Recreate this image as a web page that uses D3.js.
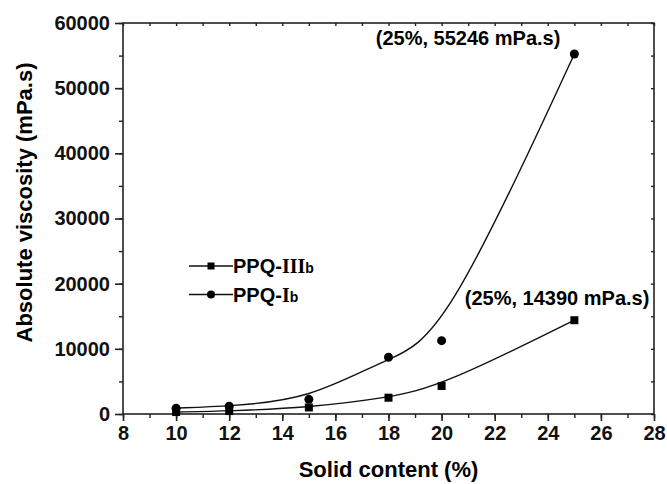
<!DOCTYPE html>
<html>
<head>
<meta charset="utf-8">
<script src="https://cdn.jsdelivr.net/npm/d3@7"></script>
<style>
    html, body { margin: 0; padding: 0; background: #fff; }
    svg { display: block; font-family: 'Liberation Sans', Arial, sans-serif; }
    .axis path, .axis line { stroke: #222; }
</style>
</head>
<body>
<div id="chart"></div>
<script>
// solid content (%)
const solidContent = [10, 12, 15, 18, 20, 25];
// absolute viscosity (mPa.s)
const ppqIIIb = [300, 450, 1000, 2500, 4300, 14390];
const ppqIb = [900, 1200, 2250, 8700, 11250, 55246];

const xTicks = [8, 10, 12, 14, 16, 18, 20, 22, 24, 26, 28];
const yTicks = [0, 10000, 20000, 30000, 40000, 50000, 60000];

const width = 667, height = 484;
const margin = { top: 23, right: 13, bottom: 70, left: 123 };

const svg = d3.select('#chart')
    .append('svg')
    .attr('width', width)
    .attr('height', height);

const x = d3.scaleLinear().domain([8, 28]).range([margin.left, width - margin.right]);
const y = d3.scaleLinear().domain([0, 60000]).range([height - margin.bottom, margin.top]);

const minorX = d3.range(8, 29, 1);
const minorY = d3.range(0, 60001, 5000);

// frame
svg.append('rect')
    .attr('x', x(8)).attr('y', y(60000))
    .attr('width', x(28) - x(8)).attr('height', y(0) - y(60000))
    .attr('fill', 'none').attr('stroke', '#222').attr('stroke-width', 1.6);

// bottom axis: minor then major
svg.append('g').attr('class', 'axis')
    .attr('transform', `translate(0,${y(0)})`)
    .call(d3.axisBottom(x).tickValues(minorX).tickSize(4).tickFormat(''))
    .call(g => g.select('.domain').remove())
    .selectAll('line').attr('stroke-width', 1.4);

svg.append('g').attr('class', 'axis')
    .attr('transform', `translate(0,${y(0)})`)
    .call(d3.axisBottom(x).tickValues(xTicks).tickSize(7).tickPadding(5).tickFormat(d3.format('d')))
    .call(g => g.select('.domain').remove())
    .call(g => g.selectAll('line').attr('stroke-width', 1.6))
    .call(g => g.selectAll('text')
        .style('font-size', '20px').style('font-weight', 'bold').attr('fill', '#111'));

// left axis
svg.append('g').attr('class', 'axis')
    .attr('transform', `translate(${x(8)},0)`)
    .call(d3.axisLeft(y).tickValues(minorY).tickSize(4).tickFormat(''))
    .call(g => g.select('.domain').remove())
    .selectAll('line').attr('stroke-width', 1.4);

svg.append('g').attr('class', 'axis')
    .attr('transform', `translate(${x(8)},0)`)
    .call(d3.axisLeft(y).tickValues(yTicks).tickSize(8).tickPadding(5).tickFormat(d3.format('d')))
    .call(g => g.select('.domain').remove())
    .call(g => g.selectAll('line').attr('stroke-width', 1.6))
    .call(g => g.selectAll('text')
        .style('font-size', '20px').style('font-weight', 'bold').attr('fill', '#111'));

// top and right: short inward ticks
svg.append('g').attr('class', 'axis')
    .attr('transform', `translate(0,${y(60000)})`)
    .call(d3.axisBottom(x).tickValues(minorX).tickSize(3).tickFormat(''))
    .call(g => g.select('.domain').remove())
    .selectAll('line').attr('stroke-width', 1.4);

svg.append('g').attr('class', 'axis')
    .attr('transform', `translate(${x(28)},0)`)
    .call(d3.axisLeft(y).tickValues(minorY).tickSize(3).tickFormat(''))
    .call(g => g.select('.domain').remove())
    .selectAll('line').attr('stroke-width', 1.4);

// axis titles
svg.append('text')
    .attr('x', (x(8) + x(28)) / 2)
    .attr('y', 477)
    .attr('text-anchor', 'middle')
    .style('font-size', '22px').style('font-weight', 'bold')
    .text('Solid content (%)');

svg.append('text')
    .attr('transform', `translate(32,${(y(0) + y(60000)) / 2 - 16}) rotate(-90)`)
    .attr('text-anchor', 'middle')
    .style('font-size', '22px').style('font-weight', 'bold')
    .text('Absolute viscosity (mPa.s)');

// B-spline fitted curves
const line = d3.line()
    .x(d => x(d[0]))
    .y(d => y(d[1]))
    .curve(d3.curveBasis);

const seriesIII = solidContent.map((s, i) => [s, ppqIIIb[i]]);
const seriesI = solidContent.map((s, i) => [s, ppqIb[i]]);

[seriesIII, seriesI].forEach(s => {
    svg.append('path')
        .datum(s)
        .attr('d', line)
        .attr('fill', 'none')
        .attr('stroke', '#111')
        .attr('stroke-width', 1.4);
});

// markers
svg.selectAll('.sq')
    .data(seriesIII)
    .join('rect')
    .attr('class', 'sq')
    .attr('x', d => x(d[0]) - 4)
    .attr('y', d => y(d[1]) - 4)
    .attr('width', 8).attr('height', 8)
    .attr('fill', '#000');

svg.selectAll('.dot')
    .data(seriesI)
    .join('circle')
    .attr('class', 'dot')
    .attr('cx', d => x(d[0]))
    .attr('cy', d => y(d[1]))
    .attr('r', 4.5)
    .attr('fill', '#000');

// annotations at the last points
const lastI = seriesI[seriesI.length - 1];
const lastIII = seriesIII[seriesIII.length - 1];

svg.append('text')
    .attr('x', x(lastI[0]) - 14)
    .attr('y', y(lastI[1]) - 9)
    .attr('text-anchor', 'end')
    .style('font-size', '20px').style('font-weight', 'bold')
    .text(`(${lastI[0]}%, ${lastI[1]} mPa.s)`);

svg.append('text')
    .attr('x', x(lastIII[0]) + 75)
    .attr('y', y(lastIII[1]) - 15)
    .attr('text-anchor', 'end')
    .style('font-size', '20px').style('font-weight', 'bold')
    .text(`(${lastIII[0]}%, ${lastIII[1]} mPa.s)`);

// legend
const legend = svg.append('g').attr('transform', 'translate(189,266)');
const legendItems = [
    { roman: 'III', marker: 'square' },
    { roman: 'I', marker: 'circle' }
];

legendItems.forEach((item, i) => {
    const g = legend.append('g').attr('transform', `translate(0,${i * 28.5})`);
    g.append('line')
        .attr('x1', 0).attr('x2', 44)
        .attr('stroke', '#111').attr('stroke-width', 1.4);
    if (item.marker === 'square') {
        g.append('rect').attr('x', 18.5).attr('y', -3.5).attr('width', 7).attr('height', 7).attr('fill', '#000');
    } else {
        g.append('circle').attr('cx', 22).attr('r', 4).attr('fill', '#000');
    }
    const t = g.append('text')
        .attr('x', 44)
        .attr('y', 7)
        .style('font-size', '20px').style('font-weight', 'bold');
    t.append('tspan').text('PPQ-');
    t.append('tspan')
        .style('font-family', "'Liberation Serif', 'Times New Roman', serif")
        .text(item.roman);
    t.append('tspan').style('font-size', '14px').text('b');
});
</script>
</body>
</html>
